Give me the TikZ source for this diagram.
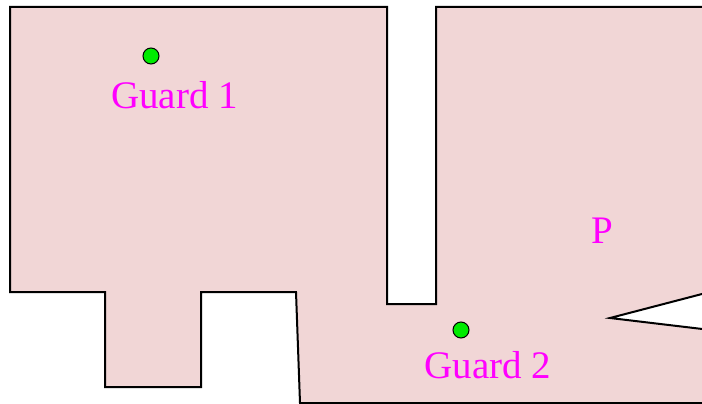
\documentclass[tikz,border=0pt]{standalone}
\usepackage{fontspec}
\setmainfont{Liberation Serif}
\definecolor{roomfill}{RGB}{241,214,214}
\definecolor{guardgreen}{RGB}{0,235,0}
\definecolor{labelmag}{RGB}{255,0,255}
\begin{document}
\begin{tikzpicture}[x=1pt,y=-1pt,
  wall/.style={draw=black,line width=2pt,line join=miter,fill=roomfill},
  guard/.style={circle,draw=black,line width=1pt,fill=guardgreen,minimum size=16pt,inner sep=0pt},
  lbl/.style={text=labelmag,font=\fontsize{39}{41}\selectfont,anchor=base,inner sep=0pt}]
\useasboundingbox (0,0) rectangle (702,404);
\clip (0,0) rectangle (702,404);
\draw[wall] (10,7) -- (387,7) -- (387,304) -- (436,304) -- (436,7) -- (730,7)
  -- (730,286.7) -- (610,318) -- (730,332.3) -- (730,403) -- (300,403) -- (296,292)
  -- (201,292) -- (201,387) -- (105,387) -- (105,292) -- (10,292) -- cycle;
\node[guard] (g1) at (151,56) {};
\node[guard] (g2) at (461,330) {};
\node[lbl] (l1) at (174.5,108) {Guard 1};
\node[lbl] (l2) at (488,378) {Guard 2};
\node[lbl] (p) at (602,243) {P};
\end{tikzpicture}
\end{document}
